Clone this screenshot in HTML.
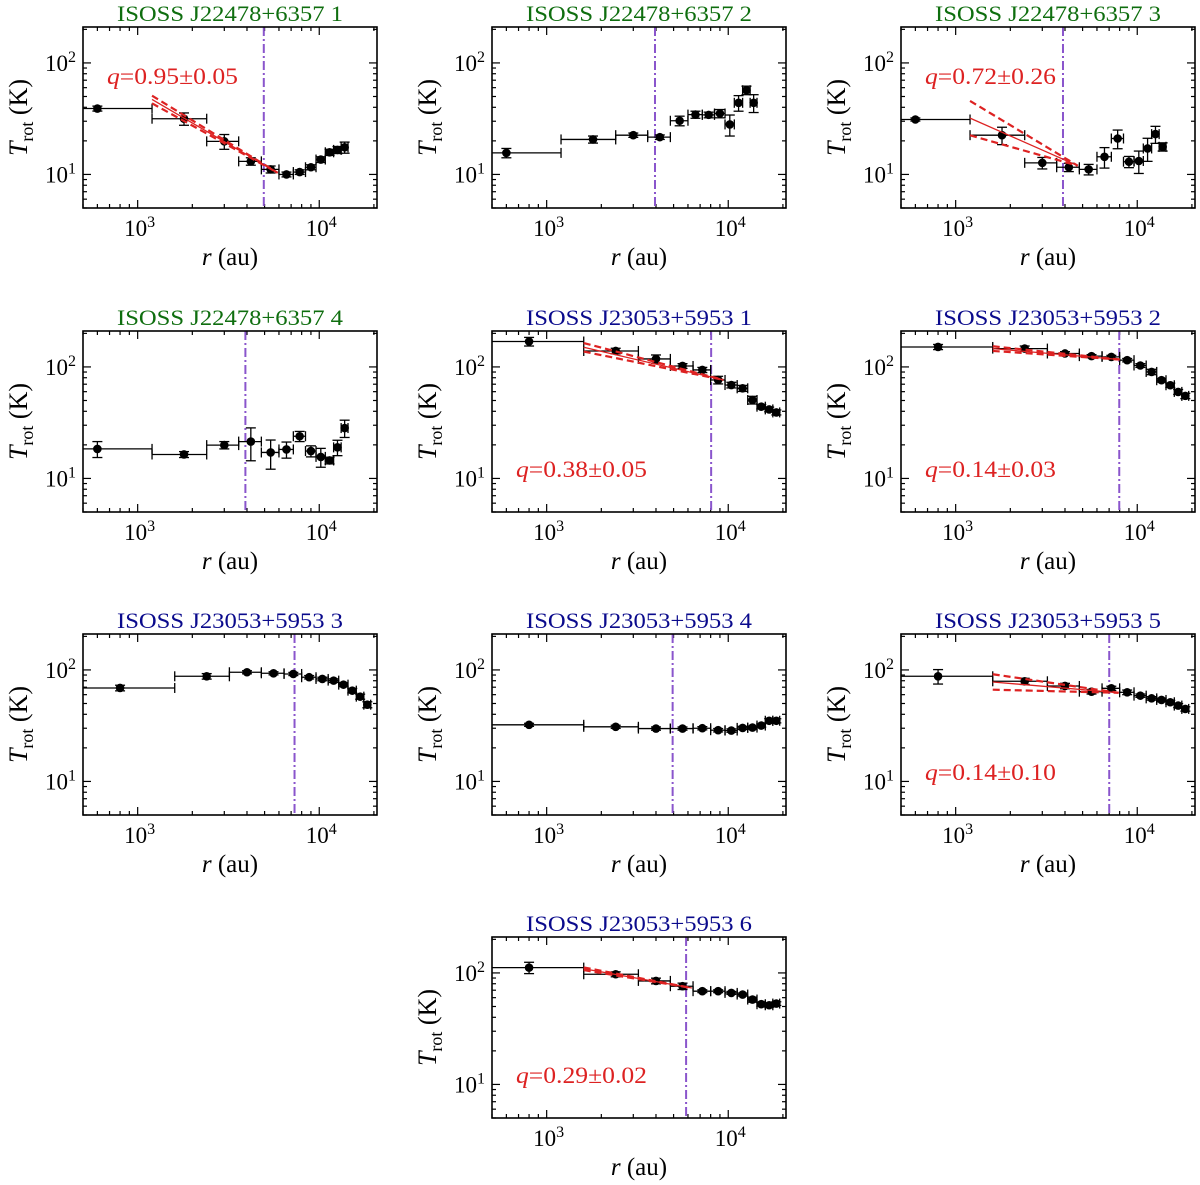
<!DOCTYPE html>
<html><head><meta charset="utf-8"><style>
html,body{margin:0;padding:0;background:#fff;}
svg{display:block;font-family:"Liberation Serif",serif;}
</style></head><body>
<svg id="fig" width="1200" height="1185" viewBox="0 0 1200 1185" xmlns="http://www.w3.org/2000/svg"></svg>
<script>
// ---- data ----
const rJ22478 = [600,1800,3000,4200,5400,6600,7800,9000,10200,11400,12600,13800];
const rJ23053 = [800,2400,4000,5600,7200,8800,10400,12000,13600,15200,16800,18400];
const xerrJ22478 = 600;
const xerrJ23053 = 800;
const temps1 = [39,31.6,19.8,13.1,11.1,10,10.5,11.6,13.6,15.8,16.6,17.5];
const errs1  = [2,4,3,1,0.8,0.5,0.5,0.6,0.8,1,1.2,2];
const temps2 = [15.6,20.6,22.5,21.6,30.3,34.4,34.2,35.2,28.1,43.9,56.9,43.9];
const errs2  = [1.5,1.5,1,1,3,2.5,2,3,6,7,5,8];
const temps3 = [31.1,22.5,12.7,11.6,11.1,14.4,21.0,13.0,13.2,17.1,23.0,17.7];
const errs3  = [1,4,1.5,1,1.2,3,4,1.5,3,4,4,1.5];
const temps4 = [18.4,16.4,19.9,21.4,17.1,18.2,23.9,17.6,15.6,14.5,19.0,28.3];
const errs4  = [3,1,1.5,7,5,3,2.5,2,3,1,3,5];
const temps5 = [169,139,118,102,94,76.4,68.8,64.3,50.5,44.0,41.6,39.1];
const errs5  = [15,8,10,5,5,6,4,4,4,2,2,2];
const temps6 = [151,146,132,125,123,115,103,90.2,76,68.5,59.7,55.0];
const errs6  = [8,8,5,4,4,4,4,5,3,3,3,3];
const temps7 = [68.9,87.7,95.3,93.3,92.0,86.0,83.0,80.2,73.8,65.2,57.6,48.8];
const errs7  = [4,5,3,3,3,3,3,3,3,3,3,3];
const temps8 = [32.2,30.9,29.8,29.8,30.0,28.8,28.6,30.2,30.4,31.7,35.0,35.0];
const errs8  = [1,1,1,1,1,1,1,1,1,1,1.5,1.5];
const temps9 = [87.7,79.1,71.8,63.8,68.4,63.0,58.8,55.6,53.8,51.3,47.9,44.7];
const errs9  = [13,5,4,3,3,3,2,2,2,2,2,2];
const temps10= [111.6,97.3,84.8,76.0,68.6,68.6,66.2,64.0,57.7,52.4,51.3,53.1];
const errs10 = [13,5,5,5,2,2,2,2,3,2,2,2];
const titles = ["ISOSS J22478+6357 1","ISOSS J22478+6357 2","ISOSS J22478+6357 3","ISOSS J22478+6357 4",
  "ISOSS J23053+5953 1","ISOSS J23053+5953 2","ISOSS J23053+5953 3","ISOSS J23053+5953 4","ISOSS J23053+5953 5","ISOSS J23053+5953 6"];
const vlines = [4950,3950,3900,3920,8050,7960,7310,4940,7010,5860];
// fits
const fitStart = [1200,null,1200,null,1600,1600,null,null,1600,1600];
const fitEnd   = [5900,null,4700,null,9400,8000,null,null,7900,6300];
const fitT0    = [47,null,32,null,150,146,null,null,78,109];
const fitQ     = [0.95,null,0.72,null,0.38,0.14,null,null,0.14,0.29];
const fitQerr  = [0.05,null,0.26,null,0.05,0.03,null,null,0.10,0.02];
const qLabels  = ["0.95±0.05",null,"0.72±0.26",null,"0.38±0.05","0.14±0.03",null,null,"0.14±0.10","0.29±0.02"];
const xMin=500, xMax=20800, yMin=5, yMax=210;

// ---- layout ----
const allTemps=[temps1,temps2,temps3,temps4,temps5,temps6,temps7,temps8,temps9,temps10];
const allErrs=[errs1,errs2,errs3,errs4,errs5,errs6,errs7,errs8,errs9,errs10];
const colX=[83,492,901], rowY=[27,331,634,937];
const pos=[[0,0],[1,0],[2,0],[0,1],[1,1],[2,1],[0,2],[1,2],[2,2],[1,3]];
const W=294,H=181;
const NS="http://www.w3.org/2000/svg";
const svg=document.getElementById('fig');
function mk(tag,attrs,parent){const e=document.createElementNS(NS,tag);for(const k in attrs)e.setAttribute(k,attrs[k]);(parent||svg).appendChild(e);return e;}
const L=Math.log10;

for(let p=0;p<10;p++){
  const ox=colX[pos[p][0]], oy=rowY[pos[p][1]];
  const xs=r=>ox+(L(r)-L(xMin))/(L(xMax)-L(xMin))*W;
  const ys=t=>oy+H-(L(t)-L(yMin))/(L(yMax)-L(yMin))*H;
  const g=mk('g',{});
  
  
  const defs=mk('defs',{},g);
  const cp=mk('clipPath',{id:'clip'+p},defs);
  mk('rect',{x:ox,y:oy,width:W,height:H},cp);
  const green=p<4;
  const t=mk('text',{x:ox+W/2,y:oy-6,'text-anchor':'middle','font-size':22,fill:green?'#0f6e0f':'#0a0a8c',textLength:226,lengthAdjust:'spacingAndGlyphs'},g);
  t.textContent=titles[p];
  
  
  const tg=mk('g',{stroke:'#000','stroke-width':1.2},g);
  
  
  const xt=[];for(let d=100;d<=10000;d*=10)for(let m=1;m<10;m++)xt.push(m*d);
  xt.forEach(v=>{if(v<xMin||v>xMax)return;const x=xs(v);const maj=(v===1000||v===10000);const len=maj?8:4;
    mk('line',{x1:x,y1:oy+H,x2:x,y2:oy+H-len},tg);mk('line',{x1:x,y1:oy,x2:x,y2:oy+len},tg);});
  const yt=[];for(let d=1;d<=100;d*=10)for(let m=1;m<10;m++)yt.push(m*d);
  yt.forEach(v=>{if(v<yMin||v>yMax)return;const y=ys(v);const maj=(v===10||v===100);const len=maj?8:4;
    mk('line',{x1:ox,y1:y,x2:ox+len,y2:y},tg);mk('line',{x1:ox+W,y1:y,x2:ox+W-len,y2:y},tg);});
  [[1000,'3'],[10000,'4']].forEach(([v,e])=>{
    const tx=mk('text',{x:xs(v)+2,y:oy+H+28,'text-anchor':'middle','font-size':23},g);
    
    
    tx.innerHTML='10<tspan dy="-9" font-size="16">'+e+'</tspan>';});
  [[10,'1'],[100,'2']].forEach(([v,e])=>{
    const tx=mk('text',{x:ox-7,y:ys(v)+8,'text-anchor':'end','font-size':23},g);
    
    
    tx.innerHTML='10<tspan dy="-9" font-size="16">'+e+'</tspan>';});
  const xl=mk('text',{x:ox+W/2,y:oy+H+57,'text-anchor':'middle','font-size':25},g);
  
  
  xl.innerHTML='<tspan font-style="italic">r</tspan>  (au)';
  const yl=mk('text',{x:0,y:0,'text-anchor':'middle','font-size':26,transform:'translate('+(ox-56)+','+(oy+H/2)+') rotate(-90)'},g);
  
  
  yl.innerHTML='<tspan font-style="italic">T</tspan><tspan font-size="18" dy="6">rot</tspan><tspan dy="-6"> (K)</tspan>';
  const pg=mk('g',{'clip-path':'url(#clip'+p+')'},g);
  const vl=mk('line',{x1:xs(vlines[p]),x2:xs(vlines[p]),y1:oy,y2:oy+H,stroke:'#8a55cc','stroke-width':2,'stroke-dasharray':'9,3,2,3'},pg);
  
  
  const rs=p<4?rJ22478:rJ23053, xe=p<4?xerrJ22478:xerrJ23053;
  const T=allTemps[p], E=allErrs[p];
  const dg=mk('g',{stroke:'#000','stroke-width':1.3},pg);
  
  
  rs.forEach((r,i)=>{
    const x=xs(r), y=ys(T[i]);
    const x0=xs(Math.max(r-xe,1)), x1=xs(r+xe);
    mk('line',{x1:x0,x2:x1,y1:y,y2:y},dg);
    mk('line',{x1:x1,x2:x1,y1:y-5,y2:y+5},dg);
    if(r-xe>0) mk('line',{x1:x0,x2:x0,y1:y-5,y2:y+5},dg);
    const yt2=ys(T[i]+E[i]), yb=ys(Math.max(T[i]-E[i],0.1));
    mk('line',{x1:x,x2:x,y1:yt2,y2:yb},dg);
    mk('line',{x1:x-5,x2:x+5,y1:yt2,y2:yt2},dg);
    mk('line',{x1:x-5,x2:x+5,y1:yb,y2:yb},dg);
    const c=mk('circle',{cx:x,cy:y,r:4.3,fill:'#000',stroke:'none'},dg);
    
    
  });
  if(fitStart[p]){
    const r0=fitStart[p], r1=fitEnd[p], T0=fitT0[p], q=fitQ[p], e=fitQerr[p];
    const Tend=T0*Math.pow(r1/r0,-q);
    const fg=mk('g',{fill:'none',stroke:'#dd2222'},g);
    
    
    mk('line',{x1:xs(r0),y1:ys(T0),x2:xs(r1),y2:ys(Tend),'stroke-width':1.3},fg);
    [q+e,q-e].forEach(qq=>{
      const Ts=Tend*Math.pow(r0/r1,-qq);
      mk('line',{x1:xs(r0),y1:ys(Ts),x2:xs(r1),y2:ys(Tend),'stroke-width':2.2,'stroke-dasharray':'7,4'},fg);
    });
    const ql=mk('text',{x:ox+24,y:(p<4)?oy+57:oy+146,'font-size':23,fill:'#dd2222',textLength:131,lengthAdjust:'spacingAndGlyphs'},g);
    
    
    ql.innerHTML='<tspan font-style="italic">q</tspan>='+qLabels[p];
  }
  const fr=mk('rect',{x:ox,y:oy,width:W,height:H,fill:'none',stroke:'#000','stroke-width':1.6},g);
  
  
}
</script>
</body></html>
